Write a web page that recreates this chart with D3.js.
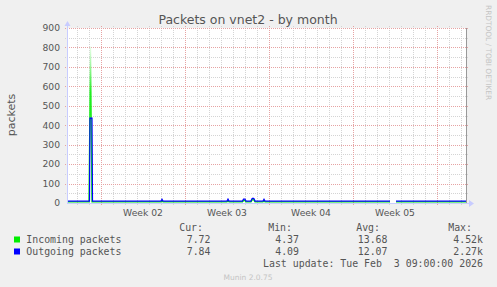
<html>
<head>
<script src="https://d3js.org/d3.v7.min.js"></script>
<style>
  body { margin: 0; background: #f0f0f0; }
  text { font-family: "DejaVu Sans", sans-serif; }
  .mono { font-family: "DejaVu Sans Mono", monospace; }
</style>
</head>
<body>
<script>
// ---- data ----
var yTicks = [0, 100, 200, 300, 400, 500, 600, 700, 800, 900];
var weekStarts = ["2026-01-05", "2026-01-12", "2026-01-19", "2026-01-26"];
var weekLabels = ["Week 02", "Week 03", "Week 04", "Week 05"];

var inTimes = ["2026-01-02T04:00", "2026-01-04T00:00", "2026-01-04T03:00", "2026-01-04T06:00",
  "2026-01-10T00:00", "2026-01-10T02:00", "2026-01-10T04:00",
  "2026-01-15T12:00", "2026-01-15T14:00", "2026-01-15T16:00",
  "2026-01-16T19:00", "2026-01-16T21:00", "2026-01-17T00:00", "2026-01-17T02:00",
  "2026-01-17T12:00", "2026-01-17T14:00", "2026-01-17T16:00", "2026-01-17T18:00", "2026-01-17T20:00",
  "2026-01-18T12:00", "2026-01-18T14:00", "2026-01-18T16:00",
  "2026-01-29T02:00", "2026-01-29T08:00", "2026-01-29T14:00", "2026-02-04T10:00"];
var inValues = [6, 6, 805, 6,
  6, 9, 6,
  6, 10, 6,
  6, 12, 12, 6,
  6, 15, 18, 15, 6,
  6, 9, 6,
  6, null, 6, 6];

var outTimes = ["2026-01-02T04:00", "2026-01-04T01:00", "2026-01-04T02:00", "2026-01-04T06:00", "2026-01-04T07:00",
  "2026-01-10T00:00", "2026-01-10T02:00", "2026-01-10T04:00",
  "2026-01-15T12:00", "2026-01-15T14:00", "2026-01-15T16:00",
  "2026-01-16T19:00", "2026-01-16T21:00", "2026-01-17T00:00", "2026-01-17T02:00",
  "2026-01-17T12:00", "2026-01-17T14:00", "2026-01-17T16:00", "2026-01-17T18:00", "2026-01-17T20:00",
  "2026-01-18T12:00", "2026-01-18T14:00", "2026-01-18T16:00",
  "2026-01-29T02:00", "2026-01-29T08:00", "2026-01-29T14:00", "2026-02-04T10:00"];
var outValues = [10, 10, 437, 437, 10,
  10, 19, 10,
  10, 20, 10,
  10, 20, 20, 10,
  10, 22, 25, 22, 10,
  10, 19, 10,
  10, null, 10, 10];

var legendNames = ["Incoming packets", "Outgoing packets"];
var legendColors = ["#00ee00", "#0000ff"];
var curVals = ["7.72", "7.84"];
var minVals = ["4.37", "4.09"];
var avgVals = ["13.68", "12.07"];
var maxVals = ["4.52k", "2.27k"];

// ---- layout ----
var W = 497, H = 287;
var pL = 67, pR = 467, pT = 28, pB = 203;
var parse = d3.utcParse("%Y-%m-%dT%H:%M");
var parseDay = d3.utcParse("%Y-%m-%d");
var t0 = parse("2026-01-02T04:00"), t1 = parse("2026-02-04T12:00");

var x = d3.scaleUtc().domain([t0, t1]).range([pL, pR]);
var y = d3.scaleLinear().domain([0, 900]).range([pB, pT]);

var svg = d3.select("body").append("svg").attr("width", W).attr("height", H);
svg.append("rect").attr("width", W).attr("height", H).attr("fill", "#f0f0f0");
svg.append("rect").attr("x", pL).attr("y", pT).attr("width", pR - pL).attr("height", pB - pT).attr("fill", "#fff");

var defs = svg.append("defs");
var grad = defs.append("linearGradient").attr("id", "gfade")
  .attr("gradientUnits", "userSpaceOnUse").attr("x1", 0).attr("x2", 0).attr("y1", pB).attr("y2", 45);
grad.append("stop").attr("offset", 0).attr("stop-color", "#00ee00");
grad.append("stop").attr("offset", 0.7).attr("stop-color", "#22ee22");
grad.append("stop").attr("offset", 0.87).attr("stop-color", "#a0f7a0");
grad.append("stop").attr("offset", 1).attr("stop-color", "#f0fff0");

// grid
var days = d3.utcDay.range(t0, t1);
var mondays = d3.utcMonday.range(t0, t1);
var g = svg.append("g").attr("shape-rendering", "crispEdges");
g.selectAll(".vmin").data(days).enter().append("line")
  .attr("x1", d => Math.round(x(d)) + 0.5).attr("x2", d => Math.round(x(d)) + 0.5)
  .attr("y1", pT - 2).attr("y2", pB + 2)
  .attr("stroke", "#d4d4d4").attr("stroke-dasharray", "1,1");
var minorY = d3.range(50, 900, 100);
g.selectAll(".hmin").data(minorY).enter().append("line")
  .attr("x1", pL - 2).attr("x2", pR + 2)
  .attr("y1", d => Math.round(y(d)) + 0.5).attr("y2", d => Math.round(y(d)) + 0.5)
  .attr("stroke", "#d4d4d4").attr("stroke-dasharray", "1,1");
g.selectAll(".vmaj").data(mondays).enter().append("line")
  .attr("x1", d => Math.round(x(d)) + 0.5).attr("x2", d => Math.round(x(d)) + 0.5)
  .attr("y1", pT - 2).attr("y2", pB + 2)
  .attr("stroke", "#e6a3a3").attr("stroke-dasharray", "1,1");
g.selectAll(".hmaj").data(yTicks.slice(1)).enter().append("line")
  .attr("x1", pL - 2).attr("x2", pR + 2)
  .attr("y1", d => Math.round(y(d)) + 0.5).attr("y2", d => Math.round(y(d)) + 0.5)
  .attr("stroke", "#e6a3a3").attr("stroke-dasharray", "1,1");

// y tick labels
svg.selectAll(".ylab").data(yTicks).enter().append("text")
  .attr("x", 60).attr("y", d => y(d) + 3.3)
  .attr("text-anchor", "end").attr("font-size", 9.2).attr("fill", "#555")
  .text(d => d);

// x labels, centred in the week
svg.selectAll(".xlab").data(weekStarts).enter().append("text")
  .attr("x", d => x(d3.utcHour.offset(parseDay(d), 84)))
  .attr("y", 215.5).attr("text-anchor", "middle").attr("font-size", 9.2).attr("fill", "#555")
  .text((d, i) => weekLabels[i]);

// lines
var line = d3.line().defined(d => d.v != null).x(d => x(d.t)).y(d => y(d.v));
var inData = inTimes.map((t, i) => ({t: parse(t), v: inValues[i]}));
var outData = outTimes.map((t, i) => ({t: parse(t), v: outValues[i]}));
svg.append("path").datum(inData).attr("d", line).attr("fill", "none")
  .attr("stroke", "url(#gfade)").attr("stroke-width", 1.3);
svg.append("path").datum(outData).attr("d", line).attr("fill", "none")
  .attr("stroke", legendColors[1]).attr("stroke-width", 1.2);

// axes
var ax = svg.append("g").attr("shape-rendering", "crispEdges");
ax.append("line").attr("x1", pL + 0.5).attr("x2", pL + 0.5).attr("y1", pB).attr("y2", 24)
  .attr("stroke", "#c8ccff");
ax.append("line").attr("x1", pL).attr("x2", 470).attr("y1", pB + 0.5).attr("y2", pB + 0.5)
  .attr("stroke", "#c8ccff");
svg.append("path").attr("d", "M64.5,26 L67.5,21 L70.5,26 Z").attr("fill", "#c8ccff");
svg.append("path").attr("d", "M469,200 L474,203.5 L469,207 Z").attr("fill", "#c8ccff");
ax.append("line").attr("x1", pR - 0.5).attr("x2", pR - 0.5).attr("y1", pT).attr("y2", pB)
  .attr("stroke", "#999");

// title and labels
svg.append("text").attr("x", 248).attr("y", 23.5).attr("text-anchor", "middle")
  .attr("font-size", 12.5).attr("fill", "#555").text("Packets on vnet2 - by month");
svg.append("text").attr("transform", "translate(15,115) rotate(-90)").attr("text-anchor", "middle")
  .attr("font-size", 11).attr("fill", "#555").text("packets");
svg.append("text").attr("transform", "translate(485.5,5) rotate(90)")
  .attr("font-size", 7.4).attr("fill", "#c4c4c4").text("RRDTOOL / TOBI OETIKER");

// legend
var fs = 9.9;
var heads = [["Cur:", 203], ["Min:", 292], ["Avg:", 380], ["Max:", 472]];
heads.forEach(h => {
  svg.append("text").attr("class", "mono").attr("x", h[1]).attr("y", 230.5)
    .attr("text-anchor", "end").attr("font-size", fs).attr("fill", "#555").text(h[0]);
});
var cols = [[curVals, 210.5], [minVals, 299], [avgVals, 387.5], [maxVals, 483]];
legendNames.forEach((n, i) => {
  var yy = 243 + i * 12;
  svg.append("rect").attr("x", 14).attr("y", yy - 6.5).attr("width", 6).attr("height", 6)
    .attr("fill", legendColors[i]);
  svg.append("text").attr("class", "mono").attr("x", 26.3).attr("y", yy)
    .attr("font-size", fs).attr("fill", "#555").text(n);
  cols.forEach(c => {
    svg.append("text").attr("class", "mono").attr("x", c[1]).attr("y", yy)
      .attr("text-anchor", "end").attr("font-size", fs).attr("fill", "#555").text(c[0][i]);
  });
});
svg.append("text").attr("class", "mono").attr("x", 483).attr("y", 267)
  .attr("text-anchor", "end").attr("font-size", fs).attr("fill", "#555")
  .attr("xml:space", "preserve").style("white-space", "pre")
  .text("Last update: Tue Feb  3 09:00:00 2026");
svg.append("text").attr("x", 248).attr("y", 279.5).attr("text-anchor", "middle")
  .attr("font-size", 7.5).attr("fill", "#c4c4c4").text("Munin 2.0.75");
</script>
</body>
</html>
